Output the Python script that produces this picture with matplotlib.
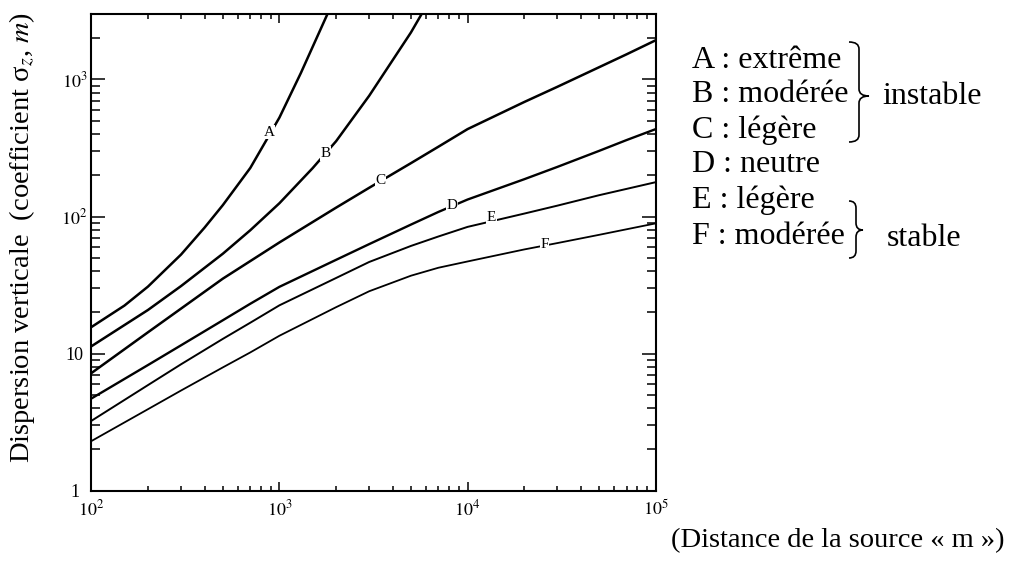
import matplotlib
matplotlib.use("Agg")
import matplotlib.pyplot as plt
from matplotlib.path import Path
from matplotlib.patches import PathPatch

plt.rcParams["font.family"] = ["Liberation Serif", "DejaVu Serif"]
plt.rcParams["mathtext.fontset"] = "stix"

# ------------------------------------------
# Data (distance m, sigma_z m)
# ------------------------------------------

dist_A = [100, 150, 200, 300, 400, 500, 700, 1000, 1300, 1800]
sigma_A = [15.6, 22.4, 30.8, 52.8, 83, 121, 226, 527, 1114, 3000]

dist_B = [100, 200, 300, 500, 700, 1000, 1500, 2000, 3000, 5000, 5700]
sigma_B = [11.3, 20.8, 31.1, 53.5, 79.4, 125, 225, 354, 760, 2200, 3000]

dist = [100, 200, 300, 500, 700, 1000, 2000, 3000, 5000, 7000,
        10000, 20000, 30000, 50000, 70000, 100000]
sigma_C = [7.2, 14.3, 21.3, 35.2, 47.3, 64.7, 116, 162, 245, 323,
           434, 684, 883, 1227, 1524, 1930]
sigma_D = [4.7, 8.25, 11.5, 17.5, 23.1, 30.7, 48.3, 62.9, 87.3, 108,
           133, 187, 230, 301, 361, 434]
sigma_E = [3.23, 5.89, 8.36, 12.8, 16.8, 22.5, 35.6, 46.6, 61.0, 71.5,
           84, 105, 120, 143, 159, 178]
sigma_F = [2.30, 3.93, 5.38, 7.93, 10.2, 13.5, 21.8, 28.5, 37.0, 42.3,
           47.0, 57.5, 64.0, 73.5, 80.7, 89.1]

# label positions on the curves
label_names = ["A", "B", "C", "D", "E", "F"]
label_x = [880, 1754, 3434, 8240, 13390, 25600]
label_y = [413, 288, 182, 120, 97.7, 62.5]

x_ticks = [100, 1000, 10000, 100000]
x_ticklabels = [r"$10^2$", r"$10^3$", r"$10^4$", r"$10^5$"]
y_ticks = [1, 10, 100, 1000]
y_ticklabels = ["1", "10", r"$10^2$", r"$10^3$"]

legend_rows = ["A : extrême", "B : modérée", "C : légère",
               "D : neutre", "E : légère", "F : modérée"]

# ------------------------------------------
# Figure
# ------------------------------------------

W, H = 1014, 564
fig = plt.figure(figsize=(W / 100, H / 100), dpi=100)

ax = fig.add_axes([91.3 / W, 1 - 490.7 / H, (655.7 - 91.3) / W, (490.7 - 14) / H])
ax.set_xscale("log")
ax.set_yscale("log")

ax.plot(dist_A, sigma_A, color="black", lw=1.8)
ax.plot(dist_B, sigma_B, color="black", lw=1.8)
ax.plot(dist, sigma_C, color="black", lw=1.8)
ax.plot(dist, sigma_D, color="black", lw=1.7)
ax.plot(dist, sigma_E, color="black", lw=1.4)
ax.plot(dist, sigma_F, color="black", lw=1.3)

for name, lx, ly in zip(label_names, label_x, label_y):
    ax.text(lx, ly, name, ha="center", va="center", fontsize=11,
            bbox=dict(fc="white", ec="none", pad=0.4), zorder=5)

ax.set_xlim(100, 100000)
ax.set_ylim(1, 3000)

ax.set_xticks(x_ticks)
ax.set_xticklabels(x_ticklabels, fontsize=13)
ax.set_yticks(y_ticks)
ax.set_yticklabels(y_ticklabels, fontsize=13, ha="center")

ax.tick_params(which="both", direction="in", top=True, right=True, width=1.1)
ax.tick_params(axis="x", which="major", length=6.5, pad=6)
ax.tick_params(axis="x", which="minor", length=3.8)
ax.tick_params(axis="y", which="major", length=10, pad=12)
ax.tick_params(axis="y", which="minor", length=6.5)

for s in ax.spines.values():
    s.set_linewidth(1.5)

# ------------------------------------------
# Axis titles and legend (pixel overlay)
# ------------------------------------------

ov = fig.add_axes([0, 0, 1, 1], facecolor="none")
ov.set_xlim(0, W)
ov.set_ylim(H, 0)
ov.axis("off")

ov.text(22, 237, "Dispersion verticale  (coefficient σ$_{z}$, $m$)",
        rotation=90, ha="center", va="center", fontsize=20.5)
ov.text(838, 541, "(Distance de la source « m »)",
        ha="center", va="center", fontsize=20.5)

row_y = [60, 95, 130, 165, 200, 236]
for txt, yy in zip(legend_rows, row_y):
    ov.text(692, yy, txt, ha="left", va="center", fontsize=23)

ov.text(882, 96, "instable", ha="left", va="center", fontsize=23)
ov.text(887, 238, "stable", ha="left", va="center", fontsize=23)


def brace(x, y0, y1, ym, w, r=7):
    xm = x + w * 0.5
    verts = [(x, y0), (xm, y0), (xm, y0 + r), (xm, ym - r),
             (xm, ym), (x + w, ym), (xm, ym), (xm, ym + r),
             (xm, y1 - r), (xm, y1), (x, y1)]
    codes = [Path.MOVETO, Path.CURVE3, Path.CURVE3, Path.LINETO,
             Path.CURVE3, Path.CURVE3, Path.CURVE3, Path.CURVE3,
             Path.LINETO, Path.CURVE3, Path.CURVE3]
    ov.add_patch(PathPatch(Path(verts, codes), fc="none", ec="black", lw=1.2))


brace(849, 42, 142, 96, 20)
brace(849, 201, 258, 230, 14)

fig.savefig("out.png", dpi=100)
